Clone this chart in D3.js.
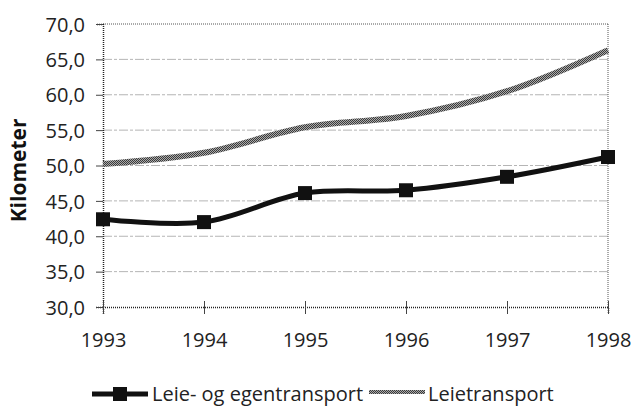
<!DOCTYPE html>
<html>
<head>
<meta charset="utf-8">
<script src="https://cdn.jsdelivr.net/npm/d3@7"></script>
<style>
  body { margin: 0; background: #fff; }
  text { font-family: "Open Sans", "DejaVu Sans", sans-serif; fill: #222; }
</style>
</head>
<body>
<div id="chart"></div>
<script>
// years on the x axis
var years = [1993, 1994, 1995, 1996, 1997, 1998];
// Leie- og egentransport (km)
var egen = [42.4, 42.0, 46.1, 46.5, 48.4, 51.2];
// Leietransport (km)
var leie = [50.2, 51.8, 55.4, 57.0, 60.5, 66.3];
var yTicks = [30, 35, 40, 45, 50, 55, 60, 65, 70];
var seriesNames = ["Leie- og egentransport", "Leietransport"];

var W = 632, H = 406;
var margin = {top: 24, right: 24, bottom: 99, left: 103};

var svg = d3.select("#chart").append("svg")
    .attr("width", W)
    .attr("height", H);

// checker pattern for the grey line
var defs = svg.append("defs");
var pat = defs.append("pattern")
    .attr("id", "checker")
    .attr("patternUnits", "userSpaceOnUse")
    .attr("width", 2).attr("height", 2);
pat.append("rect").attr("width", 2).attr("height", 2).attr("fill", "#aaa");
pat.append("rect").attr("width", 1).attr("height", 1).attr("fill", "#3a3a3a");
pat.append("rect").attr("x", 1).attr("y", 1).attr("width", 1).attr("height", 1).attr("fill", "#3a3a3a");

var x = d3.scaleLinear()
    .domain([1993, 1998])
    .range([margin.left, W - margin.right]);
var y = d3.scaleLinear()
    .domain([30, 70])
    .range([H - margin.bottom, margin.top]);

// gridlines
svg.append("g").selectAll("line")
    .data(yTicks.filter(function(d) { return d > 30 && d < 70; }))
    .enter().append("line")
    .attr("x1", x(1993)).attr("x2", x(1998))
    .attr("y1", function(d) { return y(d); })
    .attr("y2", function(d) { return y(d); })
    .attr("stroke", "#b5b5b5")
    .attr("stroke-width", 1)
    .attr("stroke-dasharray", "9,2,3,2");

// dotted frame top / right
svg.append("line")
    .attr("x1", x(1993)).attr("x2", x(1998))
    .attr("y1", y(70)).attr("y2", y(70))
    .attr("stroke", "#555").attr("stroke-dasharray", "1,1");
svg.append("line")
    .attr("x1", x(1998)).attr("x2", x(1998))
    .attr("y1", y(70)).attr("y2", y(30))
    .attr("stroke", "#555").attr("stroke-dasharray", "1,1");

// y axis
var yAxis = d3.axisLeft(y)
    .tickValues(yTicks)
    .tickSize(7)
    .tickPadding(11)
    .tickFormat(function(d) { return d3.format(".1f")(d).replace(".", ","); });
var gy = svg.append("g")
    .attr("transform", "translate(" + x(1993) + ",0)")
    .call(yAxis);
gy.select(".domain").attr("stroke", "#222").attr("stroke-width", 1.5).attr("stroke-dasharray", "1,1");
gy.selectAll(".tick line").attr("stroke", "#444");
gy.selectAll(".tick text").style("font-size", "20px").attr("dy", "0.36em");

// x axis
var xAxis = d3.axisBottom(x)
    .tickValues(years)
    .tickSize(7)
    .tickPadding(19)
    .tickFormat(d3.format("d"));
var gx = svg.append("g")
    .attr("transform", "translate(0," + y(30) + ")")
    .call(xAxis);
gx.select(".domain").attr("stroke", "#222").attr("stroke-width", 1.5).attr("stroke-dasharray", "1,1");
gx.selectAll(".tick line").attr("y1", -6).attr("stroke", "#444");
gx.selectAll(".tick text").style("font-size", "20px");

// y label
svg.append("text")
    .attr("transform", "translate(26," + y(49.3) + ") rotate(-90)")
    .attr("text-anchor", "middle")
    .style("font-size", "21px")
    .style("font-weight", "bold")
    .style("fill", "#111")
    .text("Kilometer");

var line = d3.line()
    .x(function(d, i) { return x(years[i]); })
    .y(function(d) { return y(d); })
    .curve(d3.curveCatmullRom.alpha(0.5));

svg.append("path")
    .datum(leie)
    .attr("d", line)
    .attr("fill", "none")
    .attr("stroke", "url(#checker)")
    .attr("stroke-width", 6);

svg.append("path")
    .datum(egen)
    .attr("d", line)
    .attr("fill", "none")
    .attr("stroke", "#111")
    .attr("stroke-width", 5);

svg.append("g").selectAll("rect")
    .data(egen)
    .enter().append("rect")
    .attr("x", function(d, i) { return x(years[i]) - 7; })
    .attr("y", function(d) { return y(d) - 7; })
    .attr("width", 14).attr("height", 14)
    .attr("fill", "#111");

// legend
var lg = svg.append("g").attr("transform", "translate(0,394)");
lg.append("line").attr("x1", 92).attr("x2", 148).attr("y1", 0).attr("y2", 0)
    .attr("stroke", "#111").attr("stroke-width", 5);
lg.append("rect").attr("x", 113).attr("y", -7).attr("width", 14).attr("height", 14).attr("fill", "#111");
lg.append("text").attr("x", 152).attr("y", 7)
    .style("font-size", "20px").text(seriesNames[0]);
lg.append("line").attr("x1", 369).attr("x2", 425).attr("y1", -2).attr("y2", -2)
    .attr("stroke", "url(#checker)").attr("stroke-width", 4);
lg.append("text").attr("x", 428).attr("y", 7)
    .style("font-size", "20px").text(seriesNames[1]);
</script>
</body>
</html>
